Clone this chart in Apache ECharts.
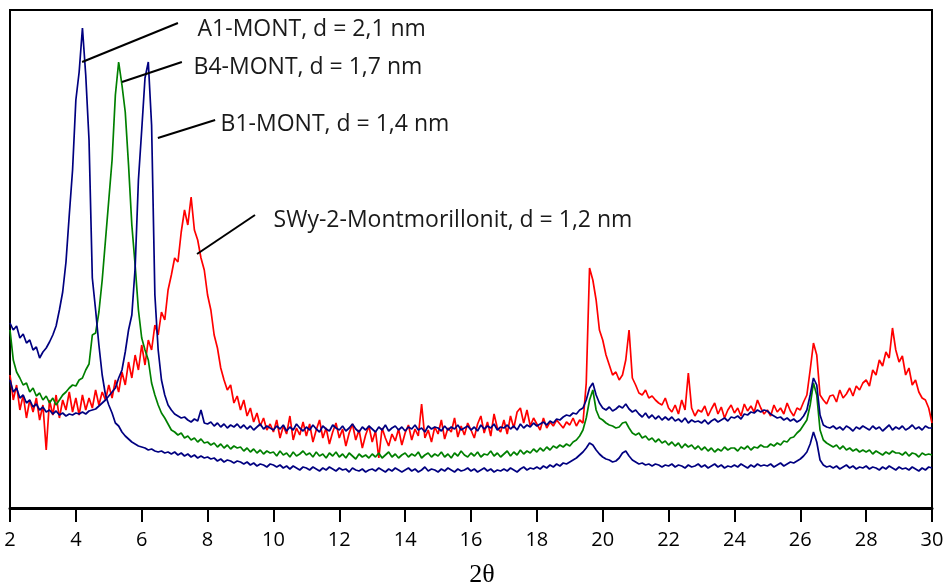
<!DOCTYPE html>
<html>
<head>
<meta charset="utf-8">
<title>XRD Montmorillonit</title>
<script src="https://cdn.jsdelivr.net/npm/echarts@6/dist/echarts.min.js"></script>
<style>
  html, body { margin: 0; padding: 0; background: #fff; }
  #chart { width: 950px; height: 587px; }
</style>
</head>
<body>
<div id="chart"></div>
<script>
// 2-theta sampling grid: 2.0 .. 30.0, step 0.1
const theta = []
for (let i = 0; i <= 280; i++) theta.push(+(2 + i * 0.1).toFixed(1))

// intensities (arbitrary units), one row per degree
const a1Mont = [
  185,178,182,170,174,165,168,158,161,150,
  156,160,166,173,182,198,216,246,293,338,
  408,436,480,433,368,230,198,163,133,113,
  103,95,85,82,76,72,69,66,64,62,
  61,60,58,59,57,56,57,55,56,54,
  56,53,55,52,54,51,53,50,52,50,
  51,49,50,47,49,46,48,47,45,47,
  46,44,46,43,45,42,44,43,41,44,
  43,41,43,40,42,39,42,40,38,41,
  40,38,41,39,37,40,38,41,39,37,
  40,38,39,36,40,38,37,39,36,38,
  39,37,40,38,36,39,37,40,38,36,
  38,40,37,39,36,38,41,37,39,38,
  36,39,37,40,38,36,39,37,38,40,
  37,39,36,38,40,37,39,36,38,37,
  39,37,40,38,36,39,41,38,40,39,
  41,39,42,40,43,41,44,42,45,44,
  46,48,50,53,56,60,65,63,58,54,
  51,49,48,46,47,50,55,57,52,48,
  46,44,45,43,44,42,44,43,41,43,
  42,44,41,43,42,40,43,41,42,44,
  41,43,40,42,44,41,43,40,42,41,
  43,41,44,42,40,43,41,44,42,43,
  42,44,41,43,45,42,44,46,45,47,
  49,52,56,64,76,66,48,43,41,42,
  40,42,39,41,43,40,42,39,41,40,
  42,39,41,40,38,41,39,42,40,38,
  41,39,40,38,41,39,37,40,38,41,
  40
]

const b4Mont = [
  178,148,136,130,123,125,116,120,112,115,
  108,112,105,110,103,108,113,116,120,123,
  122,128,130,138,144,173,175,196,228,268,
  308,348,413,446,423,396,343,283,243,198,
  170,158,148,125,113,103,95,90,84,78,
  76,73,75,70,72,68,70,66,69,65,
  66,63,65,61,64,60,63,59,62,60,
  61,57,60,56,59,55,58,54,57,55,
  56,52,57,53,55,51,56,52,54,57,
  53,55,51,56,52,54,50,55,52,56,
  51,54,50,55,52,49,54,51,53,50,
  54,51,55,50,53,56,51,54,50,53,
  55,51,54,52,56,50,53,55,51,54,
  52,56,51,54,50,55,52,57,53,51,
  55,52,56,51,54,53,57,52,55,51,
  54,57,52,56,53,58,54,57,55,59,
  56,60,57,61,58,62,60,63,61,64,
  62,66,68,72,78,90,108,118,98,90,
  88,85,83,82,80,81,85,86,80,75,
  73,75,70,72,68,70,66,69,65,67,
  63,66,62,65,60,64,61,63,59,62,
  58,61,57,60,56,59,57,61,58,60,
  60,57,61,59,62,58,61,60,63,61,
  61,64,62,65,63,67,66,70,71,75,
  78,83,88,103,125,113,78,68,65,63,
  61,63,59,62,58,60,57,59,56,58,
  56,58,54,57,55,53,56,54,57,55,
  55,53,56,52,55,54,51,55,53,54,
  53
]

const b1Mont = [
  128,116,120,110,113,105,108,101,104,98,
  101,96,98,94,97,93,95,92,94,93,
  95,94,96,94,97,98,99,102,105,108,
  112,116,120,130,138,156,178,193,240,328,
  378,430,446,383,213,158,128,113,103,98,
  94,92,90,91,88,86,89,87,98,85,
  84,86,82,85,81,84,80,83,81,84,
  80,83,79,82,78,81,84,79,82,80,
  78,82,79,83,77,81,78,84,80,77,
  81,78,83,79,76,82,79,77,83,80,
  78,82,77,80,84,79,76,81,78,82,
  79,76,81,78,83,77,80,82,78,81,
  77,81,79,83,78,80,76,82,79,81,
  80,77,82,78,81,79,83,78,80,82,
  78,81,77,83,79,82,80,84,78,81,
  80,83,79,82,78,84,80,83,81,85,
  82,84,86,83,87,85,89,88,91,93,
  92,95,94,98,100,108,120,125,113,105,
  100,98,101,97,99,102,100,104,99,96,
  98,94,91,95,90,93,89,92,88,91,
  88,91,87,89,86,90,85,88,86,87,
  85,88,84,87,89,86,88,90,87,91,
  90,92,89,94,93,96,95,98,96,98,
  97,94,92,90,91,88,90,87,89,86,
  88,92,98,113,130,123,93,83,81,80,
  82,79,81,78,82,80,77,81,79,82,
  80,78,82,79,81,77,80,83,78,81,
  79,82,78,80,83,79,81,78,82,80,
  80
]

const swy2 = [
  133,108,123,98,113,90,108,96,110,88,
  103,58,108,93,113,90,108,98,116,96,
  110,93,113,98,110,100,118,103,116,108,
  123,110,128,116,136,123,146,130,153,138,
  163,143,168,158,183,173,196,188,218,233,
  250,246,276,298,283,311,278,268,250,238,
  213,198,173,160,140,128,118,123,105,112,
  98,108,92,100,86,95,82,90,78,84,
  76,88,70,82,74,92,68,80,73,86,
  72,84,66,78,88,70,80,64,76,85,
  70,79,62,75,84,68,78,60,73,82,
  66,77,50,80,70,62,74,67,79,63,
  75,83,68,79,72,104,70,78,66,81,
  74,88,69,80,76,90,71,82,73,85,
  78,70,84,92,75,86,72,94,80,76,
  88,74,92,80,96,100,85,98,82,90,
  84,78,90,80,86,82,88,84,80,86,
  83,90,82,88,85,125,240,228,208,178,
  168,153,143,133,136,128,133,148,178,130,
  123,115,113,118,110,112,108,105,103,110,
  100,96,103,94,108,98,135,100,92,98,
  96,102,92,99,105,94,101,90,98,103,
  95,100,92,104,97,102,96,108,100,94,
  98,92,103,96,100,94,105,97,92,100,
  98,106,113,138,165,153,113,108,104,112,
  113,106,118,110,114,120,112,122,118,125,
  128,122,138,133,148,142,156,150,180,158,
  146,152,133,140,123,128,116,110,108,100,
  85
]

// annotation texts and the leader lines pointing at the peaks
const peakLabels = [
  'A1-MONT, d = 2,1 nm',
  'B4-MONT, d = 1,7 nm',
  'B1-MONT, d = 1,4 nm',
  'SWy-2-Montmorillonit, d = 1,2 nm'
]
const leaderFrom = [[4.19, 446], [5.40, 426], [6.49, 370], [7.68, 254]]
const leaderTo = [[7.10, 485], [7.22, 446], [8.23, 388], [9.44, 293]]
const labelAt = [[7.68, 479], [7.56, 441], [8.38, 384], [9.99, 288]]

const pairs = arr => theta.map((t, i) => [t, arr[i]])

const curve = (name, color, arr) => ({
  name,
  type: 'line',
  data: pairs(arr),
  symbol: 'none',
  smooth: false,
  lineStyle: { color, width: 1.7 },
  itemStyle: { color },
  silent: true
})

const chart = echarts.init(document.getElementById('chart'))
chart.setOption({
  animation: false,
  backgroundColor: '#fff',
  grid: {
    left: 10,
    right: 18,
    top: 10,
    bottom: 79,
    outerBoundsMode: 'none',
    containLabel: false,
    show: true,
    borderColor: '#000',
    borderWidth: 2
  },
  xAxis: {
    type: 'value',
    min: 2,
    max: 30,
    interval: 2,
    name: '2θ',
    nameLocation: 'middle',
    nameGap: 54,
    nameTextStyle: {
      fontFamily: 'Liberation Serif',
      fontSize: 26,
      color: '#000',
      padding: [0, 0, 0, 22]
    },
    axisLine: { show: true, lineStyle: { color: '#000', width: 3 } },
    axisTick: { show: true, length: 14, lineStyle: { color: '#000', width: 2 } },
    axisLabel: {
      margin: 22,
      fontFamily: 'Open Sans',
      fontSize: 20,
      color: '#000'
    },
    splitLine: { show: false }
  },
  yAxis: {
    type: 'value',
    min: 0,
    max: 498,
    show: false
  },
  series: [
    curve('SWy-2-Montmorillonit', '#ff0000', swy2),
    curve('B4-MONT', '#008000', b4Mont),
    curve('B1-MONT', '#000080', b1Mont),
    Object.assign(curve('A1-MONT', '#000080', a1Mont), {
      markLine: {
        silent: true,
        symbol: 'none',
        label: { show: false },
        lineStyle: { color: '#000', width: 2, type: 'solid' },
        data: leaderFrom.map((p, i) => [{ coord: p }, { coord: leaderTo[i] }])
      },
      markPoint: {
        silent: true,
        symbol: 'circle',
        symbolSize: 1,
        itemStyle: { color: 'rgba(0,0,0,0)' },
        label: {
          show: true,
          position: 'right',
          distance: 0,
          fontFamily: 'Open Sans',
          fontSize: 23,
          color: '#1a1a1a'
        },
        data: labelAt.map((p, i) => ({
          coord: p,
          label: { formatter: peakLabels[i] }
        }))
      }
    })
  ]
})
</script>
</body>
</html>
